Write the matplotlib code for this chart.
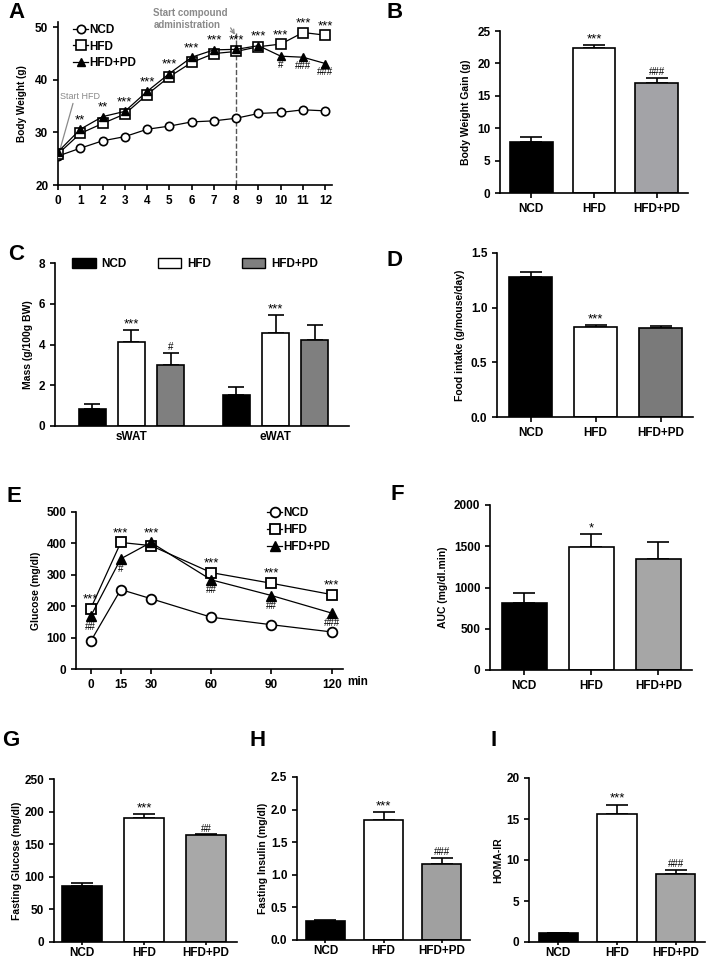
import numpy as np
import matplotlib
matplotlib.use("Agg")
import matplotlib.pyplot as plt
from matplotlib.lines import Line2D
from matplotlib.patches import Patch

plt.rcParams['font.family'] = ['Liberation Sans', 'DejaVu Sans']
plt.rcParams['font.weight'] = 'bold'
plt.rcParams['axes.linewidth'] = 1.2
plt.rcParams['xtick.major.width'] = 1.2
plt.rcParams['ytick.major.width'] = 1.2
plt.rcParams['xtick.major.size'] = 3.5
plt.rcParams['ytick.major.size'] = 3.5

W, H = 706, 960

groups = ["NCD", "HFD", "HFD+PD"]

# --- A: body weight over 12 weeks
weeks = np.arange(13)
bw_ncd = [25.5, 27.0, 28.4, 29.2, 30.6, 31.2, 32.0, 32.2, 32.7, 33.6, 33.8, 34.3, 34.1]
bw_hfd = [25.9, 29.8, 31.7, 33.5, 37.2, 40.6, 43.3, 45.0, 45.4, 46.3, 46.8, 49.0, 48.5]
bw_pd = [26.3, 30.6, 33.0, 34.0, 37.8, 41.2, 44.3, 45.7, 45.8, 46.5, 44.5, 44.3, 43.1]
bw_stars = ["", "**", "**", "***", "***", "***", "***", "***", "***", "***", "***", "***", "***"]
bw_hash = ["", "", "", "", "", "", "", "", "", "", "#", "###", "###"]

# --- B: body weight gain
gain = [7.87, 22.4, 16.9]
gain_err = [0.77, 0.5, 0.9]
gain_marks = ["", "***", "###"]

# --- C: fat mass
depots = ["sWAT", "eWAT"]
fat_ncd = [0.85, 1.53]
fat_hfd = [4.1, 4.55]
fat_pd = [3.0, 4.2]
fat_ncd_err = [0.21, 0.37]
fat_hfd_err = [0.6, 0.88]
fat_pd_err = [0.56, 0.76]
fat_marks = [["", "***", "#"], ["", "***", ""]]

# --- D: food intake
food = [1.28, 0.824, 0.818]
food_err = [0.045, 0.02, 0.018]
food_marks = ["", "***", ""]

# --- E: glucose tolerance test
gtt_t = [0, 15, 30, 60, 90, 120]
gtt_ncd = [88, 253, 224, 165, 141, 118]
gtt_hfd = [192, 403, 393, 307, 273, 237]
gtt_pd = [168, 351, 403, 284, 234, 178]
gtt_stars = ["***", "***", "***", "***", "***", "***"]
gtt_hash = ["##", "#", "", "##", "##", "###"]

# --- F: AUC
auc = [816, 1487, 1345]
auc_err = [121, 161, 202]
auc_marks = ["", "*", ""]

# --- G, H, I
fglu = [86, 190.6, 164]
fglu_err = [4.7, 6.1, 1.0]
fglu_marks = ["", "***", "##"]

fins = [0.297, 1.834, 1.168]
fins_err = [0.01, 0.123, 0.087]
fins_marks = ["", "***", "###"]

homa = [1.14, 15.57, 8.33]
homa_err = [0.0, 1.18, 0.49]
homa_marks = ["", "***", "###"]

STAR_FS = 9.5
HASH_FS = 7


def px_axes(fig, left, top, right, bottom):
    return fig.add_axes([left / W, 1 - bottom / H, (right - left) / W, (bottom - top) / H])


def style(ax):
    ax.spines['top'].set_visible(False)
    ax.spines['right'].set_visible(False)
    ax.tick_params(labelsize=8.5)
    for lab in ax.get_xticklabels() + ax.get_yticklabels():
        lab.set_fontweight('bold')


def mark_fs(m):
    return STAR_FS if '*' in m else HASH_FS


def bar_panel(ax, vals, errs, colors, marks, ylim, yticks, ylabel, fmt="{:g}", xlim=(-0.5, 2.5),
              width=0.67, labelpad=4):
    x = np.arange(len(vals))
    ax.errorbar(x, vals, yerr=[np.zeros(len(vals)), errs], fmt='none', ecolor='black',
                elinewidth=1.2, capsize=8, capthick=1.2, zorder=1)
    ax.bar(x, vals, width=width, color=colors, edgecolor='black', linewidth=1.2, zorder=2)
    off = (ylim[1] - ylim[0]) * 0.035
    for xi, v, e, m in zip(x, vals, errs, marks):
        if m:
            ax.text(xi, v + e + off, m, ha='center', va='center', fontsize=mark_fs(m), fontweight='normal')
    ax.set_xlim(*xlim)
    ax.set_ylim(*ylim)
    ax.set_yticks(yticks)
    ax.set_yticklabels([fmt.format(t) for t in yticks])
    ax.set_xticks(x)
    ax.set_xticklabels(groups)
    ax.set_ylabel(ylabel, fontsize=7.5, fontweight='bold', labelpad=labelpad)
    style(ax)


fig = plt.figure(figsize=(W / 100, H / 100), dpi=100)

# ---------------- A
axA = px_axes(fig, 58, 22, 332, 185)
axA.axvline(8, ymin=0, ymax=0.93, color='#555555', ls='--', lw=1.0)
axA.plot(weeks, bw_ncd, '-', color='black', lw=0.9, marker='o', ms=6, mfc='white', mec='black', mew=1.2, zorder=3)
axA.plot(weeks, bw_hfd, '-', color='black', lw=0.9, marker='s', ms=6.5, mfc='white', mec='black', mew=1.2, zorder=4)
axA.plot(weeks, bw_pd, '-', color='black', lw=0.9, marker='^', ms=6, mfc='black', mec='black', zorder=5)
for w, s, h, a, b in zip(weeks, bw_stars, bw_hash, bw_hfd, bw_pd):
    if s:
        axA.text(w, max(a, b) + 1.7, s, ha='center', va='center', fontsize=STAR_FS, fontweight='normal')
    if h:
        axA.text(w, b - 1.7, h, ha='center', va='center', fontsize=HASH_FS, fontweight='normal')
axA.set_xlim(0, 12.3)
axA.set_ylim(20, 51)
axA.set_xticks(weeks)
axA.set_yticks([20, 30, 40, 50])
axA.set_ylabel("Body Weight (g)", fontsize=7.2, fontweight='bold', labelpad=6)
axA.annotate("Start HFD", xy=(0.06, 26.3), xytext=(0.08, 36.9), fontsize=6.5, color='#8a8a8a',
             fontweight='normal', va='center',
             arrowprops=dict(arrowstyle='-', color='#8a8a8a', lw=0.9, shrinkA=0, shrinkB=0,
                             relpos=(0.35, 0)))
axA.annotate("Start compound\nadministration", xy=(7.94, 48.6), xytext=(4.28, 53.6),
             fontsize=7, color='#8a8a8a', fontweight='bold', va='top', ha='left', annotation_clip=False,
             arrowprops=dict(arrowstyle='->', color='#8a8a8a', lw=0.9, shrinkA=0, shrinkB=0,
                             relpos=(1.0, 0.3)))
hA = [Line2D([], [], color='black', lw=0.9, marker='o', ms=6, mfc='white', mec='black', mew=1.2),
      Line2D([], [], color='black', lw=0.9, marker='s', ms=6.5, mfc='white', mec='black', mew=1.2),
      Line2D([], [], color='black', lw=0.9, marker='^', ms=6, mfc='black', mec='black')]
axA.legend(hA, groups, loc='upper left', bbox_to_anchor=(0.055, 0.985), frameon=False, fontsize=8.5,
           handlelength=1.3, handletextpad=0.1, labelspacing=0.35, borderpad=0, borderaxespad=0)
style(axA)

# ---------------- B
axB = px_axes(fig, 500, 31, 688, 193)
bar_panel(axB, gain, gain_err, ['black', 'white', '#a3a3a7'], gain_marks, (0, 25),
          [0, 5, 10, 15, 20, 25], "Body Weight Gain (g)", width=0.68)

# ---------------- C
axC = px_axes(fig, 55, 263, 349, 426)
gx = np.arange(len(depots))
step = 0.273
bw = 0.187
for k, (vals, errs, col) in enumerate([(fat_ncd, fat_ncd_err, 'black'),
                                       (fat_hfd, fat_hfd_err, 'white'),
                                       (fat_pd, fat_pd_err, '#7f7f7f')]):
    xs = gx + (k - 1) * step
    axC.errorbar(xs, vals, yerr=[np.zeros(len(vals)), errs], fmt='none', ecolor='black',
                 elinewidth=1.2, capsize=5.5, capthick=1.2, zorder=1)
    axC.bar(xs, vals, width=bw, color=col, edgecolor='black', linewidth=1.2, zorder=2)
    for xi, v, e, marks in zip(xs, vals, errs, fat_marks):
        m = marks[k]
        if m:
            axC.text(xi, v + e + 0.3, m, ha='center', va='center', fontsize=mark_fs(m),
                     fontweight='normal')
axC.set_xlim(-0.53, 1.51)
axC.set_ylim(0, 8)
axC.set_yticks([0, 2, 4, 6, 8])
axC.set_xticks(gx)
axC.set_xticklabels(depots)
axC.tick_params(axis='x', length=0)
axC.set_ylabel("Mass (g/100g BW)", fontsize=7.5, fontweight='bold')
hC = [Patch(facecolor=c, edgecolor='black', lw=1.0) for c in ['black', 'white', '#7f7f7f']]
axC.legend(hC, groups, loc='upper left', bbox_to_anchor=(0.058, 1.03), ncol=3, frameon=False,
           fontsize=8.5, handlelength=2.0, handleheight=0.9, handletextpad=0.5, columnspacing=2.6,
           borderpad=0, borderaxespad=0)
style(axC)

# ---------------- D
axD = px_axes(fig, 497, 253, 693, 417)
bar_panel(axD, food, food_err, ['black', 'white', '#7a7a7a'], food_marks, (0, 1.5),
          [0, 0.5, 1.0, 1.5], "Food intake (g/mouse/day)", fmt="{:.1f}", xlim=(-0.52, 2.5))

# ---------------- E
axE = px_axes(fig, 76, 512, 343, 669)
axE.plot(gtt_t, gtt_ncd, '-', color='black', lw=0.9, marker='o', ms=7, mfc='white', mec='black', mew=1.3, zorder=3)
axE.plot(gtt_t, gtt_hfd, '-', color='black', lw=0.9, marker='s', ms=7.5, mfc='white', mec='black', mew=1.3, zorder=4)
axE.plot(gtt_t, gtt_pd, '-', color='black', lw=0.9, marker='^', ms=6.5, mfc='black', mec='black', zorder=5)
for t, s, h, a, b in zip(gtt_t, gtt_stars, gtt_hash, gtt_hfd, gtt_pd):
    if s:
        axE.text(t, max(a, b) + 30, s, ha='center', va='center', fontsize=STAR_FS, fontweight='normal')
    if h:
        axE.text(t, b - 33, h, ha='center', va='center', fontsize=HASH_FS, fontweight='normal')
axE.set_xlim(-7.3, 125.6)
axE.set_ylim(0, 500)
axE.set_xticks(gtt_t)
axE.set_yticks([0, 100, 200, 300, 400, 500])
axE.set_ylabel("Glucose (mg/dl)", fontsize=7.5, fontweight='bold')
axE.text(127.6, -0.08, "min", transform=axE.get_xaxis_transform(), ha='left', va='center',
         fontsize=8.5, fontweight='bold', clip_on=False)
hE = [Line2D([], [], color='black', lw=0.9, marker='o', ms=7, mfc='white', mec='black', mew=1.3),
      Line2D([], [], color='black', lw=0.9, marker='s', ms=7.5, mfc='white', mec='black', mew=1.3),
      Line2D([], [], color='black', lw=0.9, marker='^', ms=6.5, mfc='black', mec='black')]
axE.legend(hE, groups, loc='upper left', bbox_to_anchor=(0.715, 1.03), frameon=False, fontsize=8.5,
           handlelength=1.3, handletextpad=0.1, labelspacing=0.4, borderpad=0, borderaxespad=0)
style(axE)

# ---------------- F
axF = px_axes(fig, 490, 505, 692, 670)
bar_panel(axF, auc, auc_err, ['black', 'white', '#a6a6a6'], auc_marks, (0, 2000),
          [0, 500, 1000, 1500, 2000], "AUC (mg/dl.min)", xlim=(-0.51, 2.5))

# ---------------- G
axG = px_axes(fig, 54, 779, 237, 942)
bar_panel(axG, fglu, fglu_err, ['black', 'white', '#a8a8a8'], fglu_marks, (0, 250),
          [0, 50, 100, 150, 200, 250], "Fasting Glucose (mg/dl)", xlim=(-0.45, 2.5), width=0.65,
          labelpad=2)

# ---------------- H
axH = px_axes(fig, 297, 777, 470, 940)
bar_panel(axH, fins, fins_err, ['black', 'white', '#a0a0a0'], fins_marks, (0, 2.5),
          [0, 0.5, 1.0, 1.5, 2.0, 2.5], "Fasting Insulin (mg/dl)", fmt="{:.1f}", xlim=(-0.49, 2.49),
          width=0.68, labelpad=2)

# ---------------- I
axI = px_axes(fig, 529, 778, 705, 942)
bar_panel(axI, homa, homa_err, ['black', 'white', '#a6a6a6'], homa_marks, (0, 20),
          [0, 5, 10, 15, 20], "HOMA-IR", xlim=(-0.5, 2.5), width=0.67, labelpad=2)

# bottom row: labels sit tight under the axis
for ax in (axG, axH, axI):
    ax.tick_params(axis='x', length=2.5, pad=1)

# panel letters
for letter, x, y in [("A", 8, 12), ("B", 387, 12), ("C", 8, 255), ("D", 387, 261),
                     ("E", 7, 496), ("F", 391, 495), ("G", 2, 740), ("H", 250, 741), ("I", 490, 740)]:
    fig.text(x / W, 1 - y / H, letter, fontsize=16, fontweight='bold', va='center', ha='left')

fig.savefig("out.png", dpi=100, facecolor='white')
